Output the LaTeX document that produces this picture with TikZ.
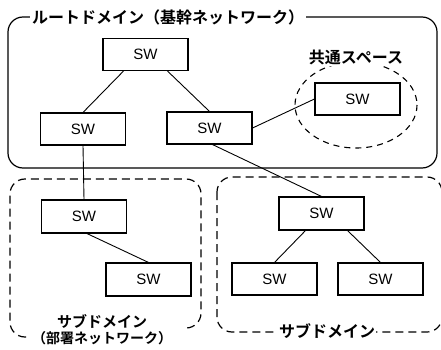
\documentclass[tikz,border=0pt]{standalone}
\usepackage{fontspec}
\setsansfont{Liberation Sans}
\newfontfamily\jp{Noto Sans CJK JP}[BoldFont={Noto Sans CJK JP Bold}]
\usetikzlibrary{shapes.geometric}
\begin{document}
\begin{tikzpicture}[x=1pt,y=-1pt,
  sw/.style={draw, line width=1.1pt, minimum width=85pt, minimum height=32pt, inner sep=0pt, font=\sffamily\fontsize{15}{15}\selectfont, fill=white},
  link/.style={line width=0.9pt},
  dom/.style={line width=1.2pt, rounded corners=15pt},
  ddom/.style={dom, dash pattern=on 8pt off 5pt},
  lbl/.style={font=\jp\bfseries\fontsize{16}{16}\selectfont, fill=white, inner sep=2pt}]
\useasboundingbox (0,0) rectangle (441,350);
% domains
\draw[dom] (8,17) rectangle (437,168);
\draw[ddom] (26,337) -- (10,337) -- (10,179) -- (201,179) -- (201,328) -- (186,328);
\draw[ddom] (217,177) rectangle (442,332);
\draw[line width=1.1pt, dash pattern=on 6pt off 5pt] (356,105) ellipse [x radius=61, y radius=43];
% labels
\node[lbl, anchor=west] (title) at (30,17) {ルートドメイン（基幹ネットワーク）};
\node[lbl] (csl) at (356,57) {共通スペース};
\node[lbl, inner sep=1pt, font=\jp\bfseries\fontsize{15}{15}\selectfont] (sdl1) at (102,321) {サブドメイン};
\node[lbl, inner sep=1pt, font=\jp\bfseries\fontsize{14}{14}\selectfont] (sdl2) at (102,338) {（部署ネットワーク）};
\node[lbl, inner sep=1pt] (sdr) at (327,331) {サブドメイン};
% switches
\node[sw] (top) at (145.5,54.5) {SW};
\node[sw] (rl) at (83,129) {SW};
\node[sw] (rm) at (209.5,128) {SW};
\node[sw] (cs) at (357.5,99) {SW};
\node[sw, minimum height=33pt] (sl1) at (84,216.5) {SW};
\node[sw, minimum height=33pt] (sl2) at (148.5,279.5) {SW};
\node[sw, minimum height=33pt] (sr1) at (321.5,213.5) {SW};
\node[sw] (sr2) at (274.5,279) {SW};
\node[sw] (sr3) at (380.5,279) {SW};
% links
\draw[link] ([xshift=-22pt]top.south) -- (rl.north);
\draw[link] ([xshift=22pt]top.south) -- (rm.north);
\draw[link] (rm.east) -- (cs.west);
\draw[link] ([xshift=3pt]rm.south) -- (sr1.north);
\draw[link] (rl.south) -- (sl1.north);
\draw[link] ([xshift=3pt]sl1.south) -- (sl2.north);
\draw[link] ([xshift=-16pt]sr1.south) -- (sr2.north);
\draw[link] ([xshift=26pt]sr1.south) -- (sr3.north);
\end{tikzpicture}
\end{document}
